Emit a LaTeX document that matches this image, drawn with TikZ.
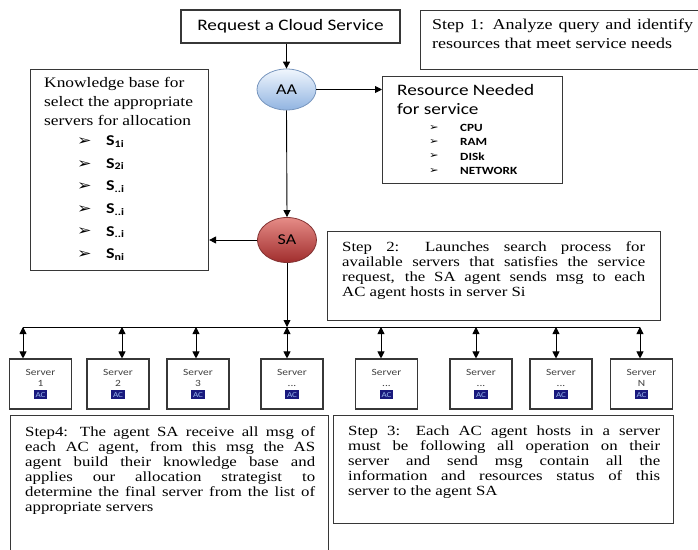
\documentclass[tikz,border=0pt]{standalone}
\usepackage{fontspec}
\setmainfont[FakeStretch=1.2]{Liberation Serif}
\setsansfont[FakeStretch=1.2]{Carlito}
\newfontfamily\dejavu[FakeStretch=1.2]{DejaVu Sans}
\usetikzlibrary{arrows.meta,shapes.geometric}
\definecolor{acnavy}{RGB}{25,25,125}
\definecolor{aclight}{RGB}{150,180,235}
\definecolor{aatop}{RGB}{240,246,253}
\definecolor{aabot}{RGB}{145,180,225}
\definecolor{aaline}{RGB}{120,150,190}
\definecolor{satop}{RGB}{230,140,135}
\definecolor{sabot}{RGB}{160,45,45}
\definecolor{saline}{RGB}{130,50,50}
\definecolor{frame}{RGB}{55,55,55}
\newcommand\acbox{{\fontsize{7.5}{8}\selectfont\setlength\fboxsep{1.8pt}\colorbox{acnavy}{\textcolor{aclight}{AC}}}}
\newcommand\bul[1]{{\dejavu\fontsize{#1}{#1}\selectfont ➢}}
\hyphenpenalty=10000
\exhyphenpenalty=10000
\hbadness=10000
\hfuzz=20pt
\begin{document}
\begin{tikzpicture}[x=1pt,y=-1pt,
  box/.style={draw=frame, line width=1.1pt},
  tip/.style={-{Triangle[length=7pt,width=7pt]}},
  dtip/.style={{Triangle[length=7pt,width=7pt]}-{Triangle[length=7pt,width=7pt]}},
  conn/.style={line width=0.9pt, black},
  server/.style={box, minimum width=62pt, minimum height=50pt, inner sep=0pt, align=center,
    font=\sffamily\fontsize{9.5}{11}\selectfont, text=black!75},
  steptext/.style={inner sep=0pt, anchor=north west, align=justify},
  agent/.style={ellipse, minimum width=59pt, minimum height=41pt, inner sep=0pt,
    font=\sffamily\fontsize{15}{15}\selectfont, line width=0.8pt}]
\clip (0,0) rectangle (698,549);
\fill[white] (0,0) rectangle (698,549);

% top boxes
\node[box, minimum width=219pt, minimum height=33pt, inner sep=0pt,
  font=\sffamily\fontsize{16}{16}\selectfont] (req) at (290.5,26.5) {Request a Cloud Service};
\node[box, minimum width=280pt, minimum height=59pt, inner sep=0pt, anchor=north west] (st1frame) at (420,10) {};
\node[steptext, text width=261pt, font=\fontsize{15}{19}\selectfont] (st1) at (432,19)
  {Step 1: Analyze query and identify\linebreak resources that meet service needs};

% agents
\node[agent, draw=aaline, top color=aatop, bottom color=aabot] (aa) at (286.5,89.5) {AA};
\node[agent, draw=saline, top color=satop, bottom color=sabot, minimum height=45pt] (sa) at (287,240) {SA};

% resource box
\node[box, minimum width=180pt, minimum height=107pt, inner sep=0pt, anchor=north west] (res) at (382,76) {};
\node[inner sep=0pt, anchor=north west, align=left, font=\sffamily\fontsize{16}{19}\selectfont] (restitle) at (397,84)
  {Resource Needed\\for service};
\foreach \t [count=\i] in {CPU,RAM,DISk,NETWORK}{
  \node[inner sep=0pt, anchor=west] (rb\i) at (429,{113.5+14.3*\i}) {\bul{9.5}};
  \node[inner sep=0pt, anchor=west, font=\sffamily\bfseries\fontsize{11}{11}\selectfont] (rt\i) at (460,{113.5+14.3*\i}) {\t};
}

% knowledge box
\node[box, minimum width=178pt, minimum height=201pt, inner sep=0pt, anchor=north west] (kb) at (30,69) {};
\node[inner sep=0pt, anchor=north west, align=left, font=\fontsize{14.5}{19}\selectfont] (kbtitle) at (44,77)
  {Knowledge base for\\select the appropriate\\servers for allocation};
\foreach \s [count=\i] in {1i,2i,..i,..i,..i,ni}{
  \node[inner sep=0pt, anchor=west] (kbb\i) at (77,{119+22.6*\i}) {\bul{14.5}};
  \node[inner sep=0pt, anchor=west, font=\sffamily\bfseries\fontsize{15}{15}\selectfont] (kbs\i) at (106,{119+22.6*\i})
    {S{\fontsize{10}{10}\selectfont\raisebox{-1.5pt}{\s}}};
}

% step 2
\node[box, minimum width=333pt, minimum height=89pt, inner sep=0pt, anchor=north west] (st2frame) at (327,231) {};
\node[steptext, text width=303pt, font=\fontsize{14}{15}\selectfont] (st2) at (342,241)
  {Step 2: Launches search process for\linebreak available servers that satisfies the service\linebreak request, the SA agent sends msg to each\linebreak AC agent hosts in server Si};

% connectors top
\draw[conn, tip] (req.south -| aa.north) -- (aa.north);
\draw[conn, tip] (aa.east) -- (res.west |- aa.east);
\draw[conn, tip] (aa.south) -- (sa.north);
\draw[conn, tip] (sa.west) -- (kb.east |- sa.west);

% servers
\node[server] (s1) at (40.5,384) {Server\\1\\\acbox};
\node[server] (s2) at (118,384) {Server\\2\\\acbox};
\node[server] (s3) at (198,384) {Server\\3\\\acbox};
\node[server] (s4) at (292,384) {Server\\...\\\acbox};
\node[server] (s5) at (386.5,384) {Server\\...\\\acbox};
\node[server] (s6) at (481,384) {Server\\...\\\acbox};
\node[server] (s7) at (561,384) {Server\\...\\\acbox};
\node[server] (s8) at (641.5,384) {Server\\N\\\acbox};

\coordinate (b1) at (23,327);
\coordinate (b2) at (122,327);
\coordinate (b3) at (196,327);
\coordinate (b4) at (287,327);
\coordinate (b5) at (381,327);
\coordinate (b6) at (476,327);
\coordinate (b7) at (556,327);
\coordinate (b8) at (640,327);
\draw[conn] (b1) -- (b8);
\draw[conn, tip] (sa.south) -- (b4);
\foreach \i in {1,...,8}{
  \draw[conn, dtip] (b\i) -- (b\i |- s\i.north);
}

% step 4 and step 3
\node[box, minimum width=318pt, minimum height=145pt, inner sep=0pt, anchor=north west] (st4frame) at (10,415) {};
\node[steptext, text width=290pt, font=\fontsize{14}{15}\selectfont] (st4) at (25,426)
  {Step4: The agent SA receive all msg of\linebreak each AC agent, from this msg the AS\linebreak agent build their knowledge base and\linebreak applies our allocation strategist to\linebreak determine the final server from the list of\linebreak appropriate servers};
\node[box, minimum width=340pt, minimum height=108pt, inner sep=0pt, anchor=north west] (st3frame) at (333,415) {};
\node[steptext, text width=312pt, font=\fontsize{14}{15}\selectfont] (st3) at (348,426)
  {Step 3: Each AC agent hosts in a server\linebreak must be following all operation on their\linebreak server and send msg contain all the\linebreak information and resources status of this\linebreak server to the agent SA};
\end{tikzpicture}
\end{document}
